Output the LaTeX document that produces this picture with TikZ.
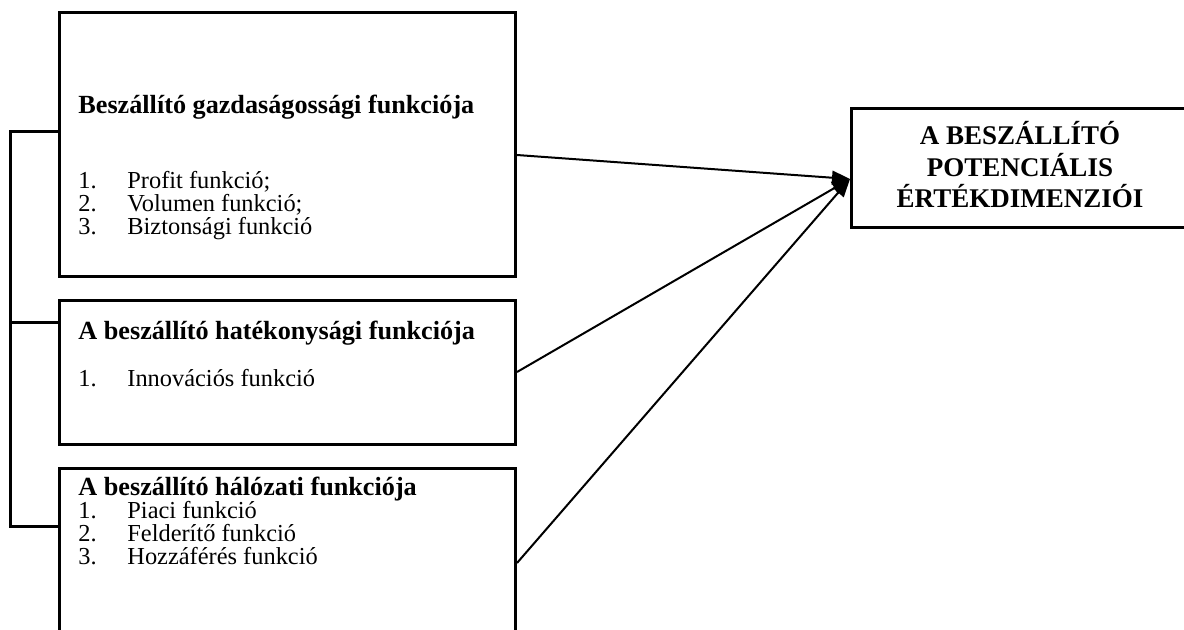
\documentclass[tikz,border=0pt]{standalone}
\usepackage{fontspec}
\setmainfont{Liberation Serif}
\usetikzlibrary{arrows.meta,calc}
\tikzset{
  doboz/.style={draw,line width=1.5pt,inner sep=0pt,anchor=north west},
  cim/.style={anchor=base west,inner sep=0pt,font=\fontsize{13.1}{15}\selectfont\bfseries},
  sor/.style={anchor=base west,inner sep=0pt,font=\fontsize{12.2}{14}\selectfont},
  nyil/.style={line width=1pt,-{Triangle[length=9pt,width=7pt]}},
  vonal/.style={line width=1.5pt}
}
\begin{document}
\begin{tikzpicture}[x=0.5pt,y=-0.5pt,line join=miter]
	\useasboundingbox (0,0) rectangle (1184,629);
	% dobozok
	\node[doboz,minimum width=228pt,minimum height=131.75pt] (gazd) at (58,11) {};
	\node[doboz,minimum width=228pt,minimum height=72pt] (hat) at (58,299) {};
	\node[doboz,minimum width=228pt,minimum height=96.5pt] (hal) at (58,467) {};
	\node[doboz,minimum width=168.5pt,minimum height=59.5pt] (dim) at (850,107) {};
	\node[align=center,inner sep=0pt,font=\fontsize{13.5}{15.75}\selectfont\bfseries]
	      (dimszoveg) at ($(dim.center)+(0,-3)$) {A BESZÁLLÍTÓ\\POTENCIÁLIS\\ÉRTÉKDIMENZIÓI};
	% szovegek
	\node[cim] (gazdcim) at (78,113) {Beszállító gazdaságossági funkciója};
	\foreach \t [count=\i] in {Profit funkció;,Volumen funkció;,Biztonsági funkció}{
		\node[sor] at (78,{188+(\i-1)*23}) {\i.};
		\node[sor] at (127,{188+(\i-1)*23}) {\t};
	}
	\node[cim] (hatcim) at (78,339) {A beszállító hatékonysági funkciója};
	\node[sor] at (78,386) {1.};
	\node[sor] at (127,386) {Innovációs funkció};
	\node[cim] (halcim) at (78,495) {A beszállító hálózati funkciója};
	\foreach \t [count=\i] in {Piaci funkció,Felderítő funkció,Hozzáférés funkció}{
		\node[sor] at (78,{518+(\i-1)*23}) {\i.};
		\node[sor] at (127,{518+(\i-1)*23}) {\t};
	}
	% bal oldali keret
	\coordinate (also) at ($(hal.north west)+(0,59)$);
	\draw[vonal] ($(gazd.north west)+(0,120)$) -- ++(-48,0) |- (also);
	\draw[vonal] ($(hat.north west)+(0,23)$) -- ++(-48,0);
	% nyilak
	\coordinate (cel) at ($(dim.north west)+(0,72)$);
	\draw[nyil] ($(gazd.north east)+(0,144)$) -- (cel);
	\draw[nyil] ($(hat.north east)+(0,73)$) -- (cel);
	\draw[nyil] ($(hal.north east)+(0,96)$) -- (cel);
\end{tikzpicture}
\end{document}
